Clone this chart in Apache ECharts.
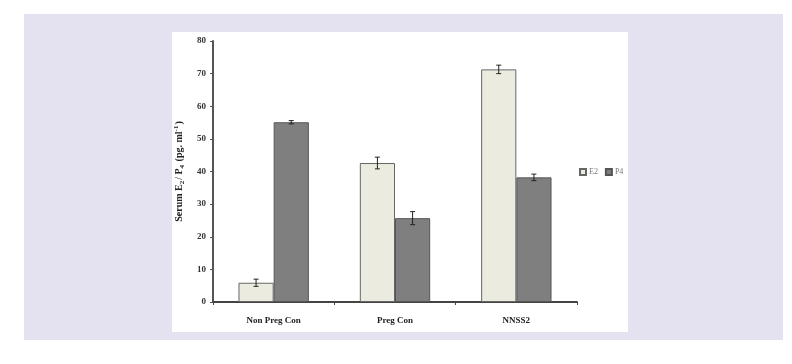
<!DOCTYPE html>
<html>
<head>
<meta charset="utf-8">
<script src="https://cdn.jsdelivr.net/npm/echarts@6/dist/echarts.min.js"></script>
<style>
html,body{margin:0;padding:0;background:#ffffff;}
#chart{width:792px;height:364px;}
</style>
</head>
<body>
<div id="chart"></div>
<script>
const categories = ['Non Preg Con', 'Preg Con', 'NNSS2'];
const seriesNames = ['E2', 'P4'];
const e2Values = [5.9, 42.6, 71.3];
const e2Errors = [1.1, 1.8, 1.3];
const p4Values = [55.1, 25.7, 38.2];
const p4Errors = [0.5, 2.0, 1.0];
const yTicks = [0, 10, 20, 30, 40, 50, 60, 70, 80];

const FONT = '"Liberation Serif", "DejaVu Serif", serif';
const GAP = 0.42;

function errorSeries(name, values, errors, side) {
  return {
    type: 'custom',
    name: name + ' err',
    z: 5,
    silent: true,
    data: values.map((v, i) => [i, v, errors[i]]),
    renderItem: function (params, api) {
      const idx = api.value(0);
      const val = api.value(1);
      const err = api.value(2);
      const band = api.size([1, 0])[0];
      const bw = band * (1 - GAP) / 2;
      const c = api.coord([idx, val]);
      const x = c[0] + side * bw / 2;
      const yHi = api.coord([idx, val + err])[1];
      const yLo = api.coord([idx, val - err])[1];
      const cap = 2.5;
      const st = { stroke: '#222', lineWidth: 1 };
      return {
        type: 'group',
        children: [
          { type: 'line', shape: { x1: x, y1: yHi, x2: x, y2: yLo }, style: st },
          { type: 'line', shape: { x1: x - cap, y1: yHi, x2: x + cap, y2: yHi }, style: st },
          { type: 'line', shape: { x1: x - cap, y1: yLo, x2: x + cap, y2: yLo }, style: st }
        ]
      };
    }
  };
}

const chart = echarts.init(document.getElementById('chart'), null, { renderer: 'canvas' });
chart.setOption({
  animation: false,
  backgroundColor: '#ffffff',
  graphic: [
    { type: 'rect', z: -10, shape: { x: 24, y: 14, width: 759, height: 326 }, style: { fill: '#e4e2f0' } },
    { type: 'rect', z: -9, shape: { x: 172, y: 32, width: 456, height: 300 }, style: { fill: '#ffffff' } }
  ],
  legend: {
    data: seriesNames,
    left: 574,
    top: 163,
    itemWidth: 6,
    itemHeight: 6,
    itemGap: 7,
    icon: 'rect',
    textStyle: { fontFamily: FONT, fontSize: 8, color: '#777', padding: [0, 0, 0, -2] }
  },
  grid: { left: 213, right: 215, top: 41, bottom: 62 },
  xAxis: {
    type: 'category',
    data: categories,
    axisLine: { lineStyle: { color: '#444', width: 2 } },
    axisTick: { show: true, length: 3, lineStyle: { color: '#444' } },
    axisLabel: { margin: 14, fontFamily: FONT, fontWeight: 'bold', fontSize: 9, color: '#222' }
  },
  yAxis: {
    type: 'value',
    min: yTicks[0],
    max: yTicks[yTicks.length - 1],
    interval: yTicks[1] - yTicks[0],
    splitLine: { show: false },
    axisLine: { show: true, lineStyle: { color: '#555', width: 2 } },
    axisTick: { show: true, length: 3, lineStyle: { color: '#555' } },
    axisLabel: { margin: 7, fontFamily: FONT, fontWeight: 'bold', fontSize: 9, color: '#333' },
    name: '{a|Serum E}{s|2}{a|/ P}{s|4}{a| (pg. ml}{u|-1}{a|)}',
    nameLocation: 'middle',
    nameGap: 27,
    nameRotate: 90,
    nameTextStyle: {
      rich: {
        a: { fontFamily: FONT, fontWeight: 'bold', fontSize: 10, color: '#222', lineHeight: 13, verticalAlign: 'middle' },
        s: { fontFamily: FONT, fontWeight: 'bold', fontSize: 7, color: '#222', lineHeight: 13, verticalAlign: 'bottom', padding: [4, 1, 0, 0] },
        u: { fontFamily: FONT, fontWeight: 'bold', fontSize: 7, color: '#222', lineHeight: 13, verticalAlign: 'top', padding: [0, 1, 4, 0] }
      }
    }
  },
  series: [
    {
      name: seriesNames[0], type: 'bar', data: e2Values,
      barGap: '0%', barCategoryGap: (GAP * 100) + '%',
      itemStyle: { color: '#ecebdf', borderColor: '#666', borderWidth: 1 }
    },
    {
      name: seriesNames[1], type: 'bar', data: p4Values,
      barGap: '0%', barCategoryGap: (GAP * 100) + '%',
      itemStyle: { color: '#7f7f7f', borderColor: '#555', borderWidth: 1 }
    },
    errorSeries('E2', e2Values, e2Errors, -1),
    errorSeries('P4', p4Values, p4Errors, 1)
  ]
});
</script>
</body>
</html>
